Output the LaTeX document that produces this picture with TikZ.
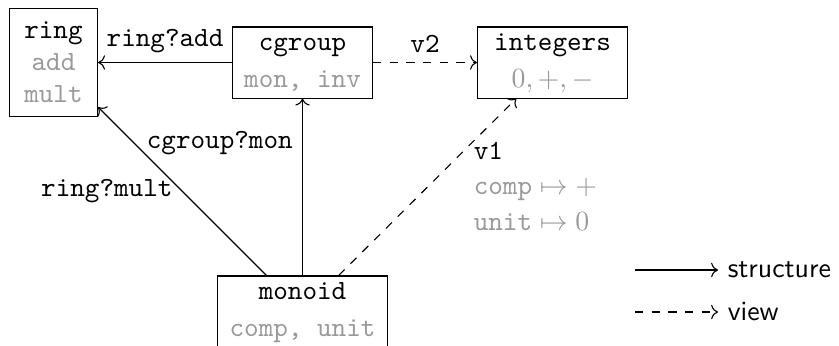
\documentclass[tikz,border=0pt]{standalone}
\usetikzlibrary{arrows.meta}
\definecolor{thyGray}{HTML}{999999}
\tikzset{
  thy box/.style={draw, font=\ttfamily, align=center, inner sep=0pt, minimum height=25.6pt},
  thy struct/.style={->},
  thy view/.style={->, dashed},
  thy label/.style={font=\ttfamily},
  thy legend/.style={font=\sffamily},
}
\newcommand\fld[1]{\textcolor{thyGray}{#1}}

\begin{document}
\begin{tikzpicture}[x=0.36pt,y=-0.36pt]
  \useasboundingbox (0,0) rectangle (839,345);
  % theories
  \node[thy box, minimum width=31.7pt, minimum height=38.9pt] (ring) at (53.5,62.5) {ring\\[-0.5pt]\fld{add}\\[-0.5pt]\fld{mult}};
  \node[thy box, minimum width=50.4pt] (cgroup) at (302.5,62.5) {\strut cgroup\\[1.3pt]\fld{mon, inv}\strut};
  \node[thy box, minimum width=54pt] (integers) at (552.5,62.5) {\strut integers\\[1.3pt]\fld{$0, +, -$}\strut};
  \node[thy box, minimum width=61.2pt] (monoid) at (302.5,311.5) {\strut monoid\\[1.3pt]\fld{comp, unit}\strut};
  % structures and views
  \draw[thy struct] (cgroup) -- node[thy label, above] {ring?add} (ring);
  \draw[thy struct] (monoid) -- node[thy label, near end, left] {cgroup?mon} (cgroup);
  \draw[thy struct] (monoid) -- node[thy label, midway, left] {ring?mult} (ring);
  \draw[thy view] (cgroup) -- node[thy label, above] {v2} (integers);
  \draw[thy view] (monoid) -- (integers);
  \node[thy label, align=left, anchor=north west] (v1) at (464,132) {v1\\[0.8pt]\fld{$\texttt{comp}\mapsto +$}\\[0.8pt]\fld{$\texttt{unit}\mapsto 0$}};
  % legend
  \coordinate (lgS) at (635,270);
  \coordinate (lgV) at (635,312);
  \node[thy legend, anchor=west] (lgStruct) at (718,270) {structure};
  \node[thy legend, anchor=west] (lgView) at (718,312) {view};
  \draw[thy struct] (lgS) -- (lgStruct);
  \draw[thy view] (lgV) -- (lgView);
\end{tikzpicture}
\end{document}
